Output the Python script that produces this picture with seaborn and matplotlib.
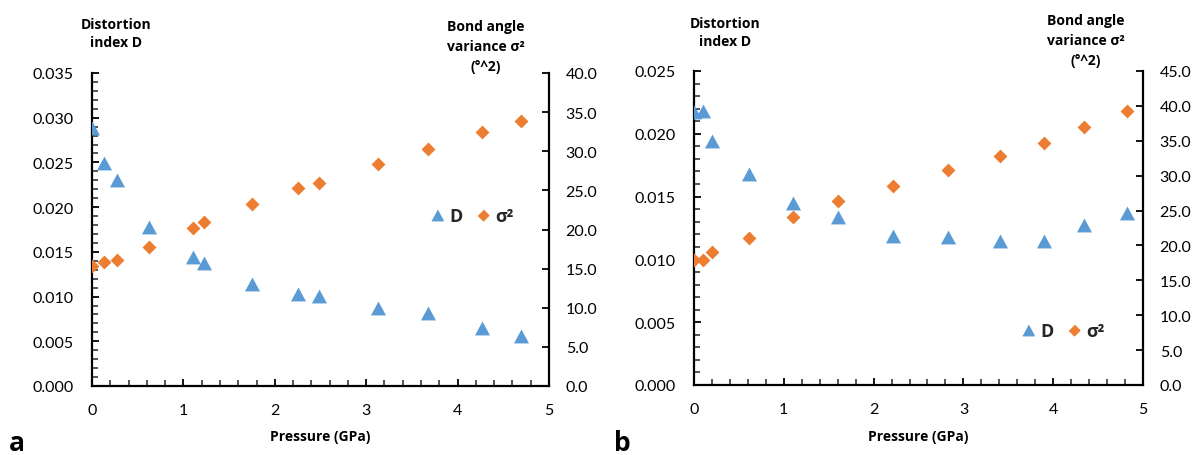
import matplotlib
matplotlib.use("Agg")
import matplotlib.pyplot as plt
from matplotlib.lines import Line2D
from matplotlib.ticker import MultipleLocator, FormatStrFormatter
import pandas as pd
import seaborn as sns

# Panel a
pressure_a = [0.0, 0.13, 0.27, 0.62, 1.10, 1.23, 1.75, 2.25, 2.48, 3.13, 3.68, 4.27, 4.69]
distortion_a = [0.0289, 0.0249, 0.0230, 0.0178, 0.0144, 0.0137, 0.0114, 0.0103, 0.0101,
                0.0087, 0.0082, 0.0065, 0.0056]
variance_a = [15.3, 15.8, 16.1, 17.8, 20.2, 21.0, 23.2, 25.3, 26.0, 28.4, 30.3, 32.4, 33.9]

# Panel b
pressure_b = [0.0, 0.10, 0.20, 0.61, 1.10, 1.60, 2.22, 2.83, 3.41, 3.90, 4.34, 4.82]
distortion_b = [0.0217, 0.0218, 0.0194, 0.0168, 0.0145, 0.0134, 0.0119, 0.0118, 0.0115,
                0.0115, 0.0127, 0.0137]
variance_b = [17.9, 17.9, 19.1, 21.1, 24.1, 26.3, 28.5, 30.8, 32.8, 34.7, 37.0, 39.2]

x_ticks = [0, 1, 2, 3, 4, 5]
panel_letters = ["a", "b"]
left_title = "Distortion\nindex D"
right_title = "Bond angle\nvariance σ²\n(°^2)"
x_title = "Pressure (GPa)"

sns.set_theme(style="white")
plt.rcParams["font.family"] = ["Lato", "DejaVu Sans"]
BOLD_FAMILY = ["Open Sans", "DejaVu Sans"]

BLUE = "#5B9BD5"
ORANGE = "#ED7D31"
TRIANGLE = [(-1, -0.92), (1, -0.92), (0, 0.92)]
DIAMOND = [(0, 1), (1, 0), (0, -1), (-1, 0)]

W, H = 1202, 456
fig = plt.figure(figsize=(W / 100, H / 100), dpi=100)


def px_rect(x0, x1, ytop, ybot):
    return [x0 / W, 1 - ybot / H, (x1 - x0) / W, (ybot - ytop) / H]


def draw_panel(rect, pressure, dist, var, dmax, vmax, legend_xy):
    ax = fig.add_axes(rect)
    ax2 = ax.twinx()

    df = pd.DataFrame({"P": pressure, "D": dist, "S": var})
    sns.scatterplot(data=df, x="P", y="D", ax=ax, marker=TRIANGLE, s=118,
                    color=BLUE, linewidth=0, zorder=3)
    sns.scatterplot(data=df, x="P", y="S", ax=ax2, marker=DIAMOND, s=100,
                    color=ORANGE, linewidth=0, zorder=3)

    ax.set_xlim(0, 5)
    ax.set_ylim(0, dmax)
    ax2.set_ylim(0, vmax)
    ax.set_xticks(x_ticks)
    ax.yaxis.set_major_locator(MultipleLocator(0.005))
    ax.yaxis.set_minor_locator(MultipleLocator(0.001))
    ax.xaxis.set_minor_locator(MultipleLocator(0.2))
    ax.yaxis.set_major_formatter(FormatStrFormatter("%.3f"))
    ax2.yaxis.set_major_locator(MultipleLocator(5))
    ax2.yaxis.set_major_formatter(FormatStrFormatter("%.1f"))
    ax.set_xlabel("")
    ax.set_ylabel("")
    ax2.set_ylabel("")

    for a in (ax, ax2):
        a.grid(False)
        a.set_facecolor("none")
        for side in a.spines:
            a.spines[side].set_visible(False)
    for side, a in (("left", ax), ("bottom", ax), ("right", ax2)):
        a.spines[side].set_visible(True)
        a.spines[side].set_color("black")
        a.spines[side].set_linewidth(1.6)

    ax.tick_params(axis="y", which="major", direction="in", length=5, width=1.3,
                   left=True, right=False, pad=13, labelsize=11.5, colors="black")
    ax.tick_params(axis="y", which="minor", direction="in", length=4, width=1.1,
                   left=True, right=False)
    ax.tick_params(axis="x", which="major", direction="in", length=5, width=1.3,
                   bottom=True, top=False, pad=12, labelsize=11.5, colors="black")
    ax.tick_params(axis="x", which="minor", direction="in", length=4, width=1.1,
                   bottom=True, top=False)
    ax2.tick_params(axis="y", which="major", direction="in", length=5, width=1.3,
                    right=True, left=False, pad=12, labelsize=11.5, colors="black")
    ax2.tick_params(axis="y", which="minor", right=False, left=False)

    handles = [
        Line2D([], [], marker=TRIANGLE, color=BLUE, linestyle="none", markersize=8.2),
        Line2D([], [], marker=DIAMOND, color=ORANGE, linestyle="none", markersize=7.6),
    ]
    ax2.legend(handles, ["D", "σ²"], loc="center", bbox_to_anchor=legend_xy, ncol=2,
               frameon=False, handlelength=0.7, handletextpad=0.3,
               columnspacing=0.8, borderpad=0,
               prop={"family": BOLD_FAMILY, "weight": "bold", "size": 13})
    return ax, ax2


draw_panel(px_rect(92, 549, 74, 387), pressure_a, distortion_a, variance_a,
           0.035, 40, (0.832, 0.543))
draw_panel(px_rect(694, 1143, 72, 386), pressure_b, distortion_b, variance_b,
           0.025, 45, (0.822, 0.172))


def ftext(x, y, s, **kw):
    fig.text(x / W, 1 - y / H, s, family=BOLD_FAMILY, fontweight="bold",
             color="black", **kw)


title_kw = dict(ha="center", va="center", fontsize=10, multialignment="center")
ftext(116, 34, left_title, linespacing=1.45, **title_kw)
ftext(486, 47, right_title, linespacing=1.5, **title_kw)
ftext(725, 33, left_title, linespacing=1.45, **title_kw)
ftext(1086, 41, right_title, linespacing=1.5, **title_kw)

ftext((92 + 549) / 2, 437, x_title, ha="center", va="center", fontsize=10)
ftext((694 + 1143) / 2, 437, x_title, ha="center", va="center", fontsize=10)

ftext(17, 451, panel_letters[0], ha="center", va="baseline", fontsize=19)
ftext(622, 451, panel_letters[1], ha="center", va="baseline", fontsize=19)

fig.savefig("out.png", dpi=100, facecolor="white")
